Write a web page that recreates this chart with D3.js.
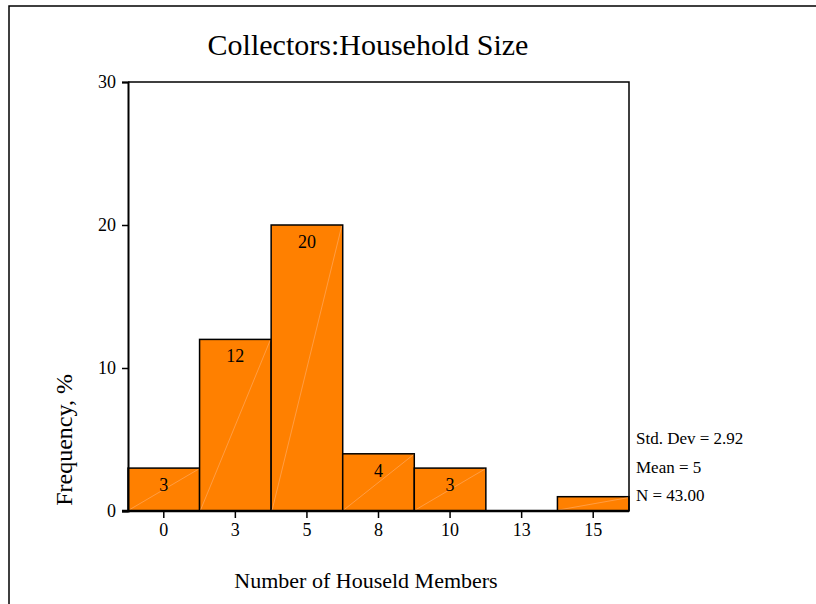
<!DOCTYPE html>
<html>
<head>
<meta charset="utf-8">
<script src="https://cdn.jsdelivr.net/npm/d3@7"></script>
<style>
  body { margin: 0; background: #fff; }
  text { font-family: "Liberation Serif", "Times New Roman", serif; fill: #000; }
</style>
</head>
<body>
<div id="chart"></div>
<script>
// histogram bins (labels are bin centres) and counts
const binLabels = ["0", "3", "5", "8", "10", "13", "15"];
const counts = [3, 12, 20, 4, 3, 0, 1];
const yTicks = [0, 10, 20, 30];
const statLines = ["Std. Dev = 2.92", "Mean = 5", "N = 43.00"];

const W = 816, H = 604;
const margin = {top: 82, right: 187, bottom: 93, left: 128};
const width = W - margin.left - margin.right,
      height = H - margin.top - margin.bottom;

const svg = d3.select("#chart").append("svg")
    .attr("width", W).attr("height", H);

// outer frame (left + top edges)
svg.append("path")
    .attr("d", `M9,${H} L9,6 L${W},6`)
    .attr("fill", "none").attr("stroke", "#000").attr("stroke-width", 1.5);

const g = svg.append("g").attr("transform", `translate(${margin.left},${margin.top})`);

const x = d3.scaleBand().domain(binLabels).range([0, width]).padding(0);
const y = d3.scaleLinear().domain([0, 30]).range([height, 0]);

// bars
const bars = g.selectAll(".bar").data(counts.map((v, i) => ({label: binLabels[i], v})))
    .enter().append("g");

bars.filter(d => d.v > 0).append("rect")
    .attr("x", d => x(d.label))
    .attr("y", d => y(d.v))
    .attr("width", x.bandwidth())
    .attr("height", d => height - y(d.v))
    .attr("fill", "#ff8000")
    .attr("stroke", "#000").attr("stroke-width", 1.5);

// faint diagonal streak inside each bar
bars.filter(d => d.v > 0).append("line")
    .attr("x1", d => x(d.label) + 1)
    .attr("y1", height - 1)
    .attr("x2", d => x(d.label) + x.bandwidth() - 1)
    .attr("y2", d => y(d.v) + 1)
    .attr("stroke", "#ffb070").attr("stroke-width", 0.6);

// count labels
bars.filter(d => d.v >= 3).append("text")
    .attr("x", d => x(d.label) + x.bandwidth() / 2)
    .attr("y", d => y(d.v) + 23)
    .attr("text-anchor", "middle")
    .style("font-size", "18px")
    .text(d => d.v);

// plot box: top and right edges
g.append("path")
    .attr("d", `M0,0 L${width},0 L${width},${height}`)
    .attr("fill", "none").attr("stroke", "#000").attr("stroke-width", 1.5);

// y axis
const yAxis = g.append("g")
    .call(d3.axisLeft(y).tickValues(yTicks).tickSize(6).tickPadding(6));
yAxis.select(".domain").attr("stroke-width", 2);
yAxis.selectAll(".tick line").attr("stroke-width", 1.5);
yAxis.selectAll("text").style("font-size", "18px")
    .style("font-family", "Liberation Serif, serif");

// x axis
const xAxis = g.append("g").attr("transform", `translate(0,${height})`)
    .call(d3.axisBottom(x).tickSize(7).tickPadding(5).tickSizeOuter(0));
xAxis.select(".domain").attr("d", `M-6,0H${width}`).attr("stroke-width", 2.5);
xAxis.selectAll(".tick line").attr("stroke-width", 1.5);
xAxis.selectAll("text").style("font-size", "18px")
    .style("font-family", "Liberation Serif, serif");

// title
svg.append("text")
    .attr("x", 368).attr("y", 55)
    .attr("text-anchor", "middle")
    .style("font-size", "30px")
    .text("Collectors:Household Size");

// axis titles
svg.append("text")
    .attr("transform", "translate(72,440) rotate(-90)")
    .attr("text-anchor", "middle")
    .style("font-size", "24px")
    .text("Frequency, %");

svg.append("text")
    .attr("x", 366).attr("y", 588)
    .attr("text-anchor", "middle")
    .style("font-size", "22px")
    .text("Number of Houseld Members");

// summary statistics
svg.selectAll(".stat").data(statLines).enter().append("text")
    .attr("x", 636)
    .attr("y", (d, i) => 444 + i * 28.5)
    .style("font-size", "17px")
    .text(d => d);
</script>
</body>
</html>
